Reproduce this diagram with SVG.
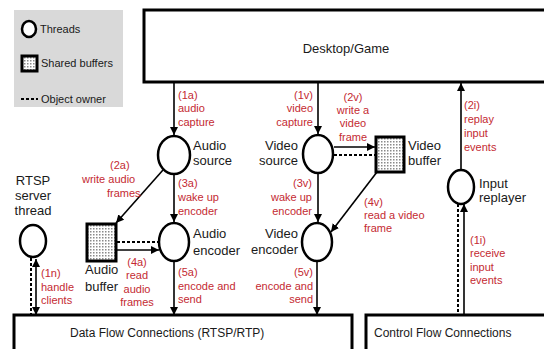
<svg xmlns="http://www.w3.org/2000/svg" width="544" height="349" viewBox="0 0 544 349">
  <defs>
    <pattern id="stipple" width="3" height="3" patternUnits="userSpaceOnUse">
      <rect width="3" height="3" fill="#ffffff"/>
      <rect width="1.5" height="1.5" fill="#8a8a8a"/>
    </pattern>
    <marker id="arrow" viewBox="0 0 10 10" refX="10" refY="5" markerWidth="8" markerHeight="8" markerUnits="userSpaceOnUse" orient="auto-start-reverse">
      <path d="M0,0 L10,5 L0,10 z" fill="#000"/>
    </marker>
    <style>
      .box { fill: #ffffff; stroke: #000; stroke-width: 3; }
      .thread { fill: #ffffff; stroke: #000; stroke-width: 2.5; }
      .buffer { fill: url(#stipple); stroke: #000; stroke-width: 3; }
      .flow { fill: none; stroke: #000; stroke-width: 1.6; marker-end: url(#arrow); }
      .both { marker-start: url(#arrow); }
      .owner { fill: none; stroke: #000; stroke-width: 2; stroke-dasharray: 3 2; }
      text { font-family: "Liberation Sans", Arial, sans-serif; }
      .name { font-size: 13px; fill: #1a1a1a; }
      .step { font-size: 11px; fill: #c42a32; }
      .legend { font-size: 11px; fill: #1a1a1a; }
      .title { font-size: 13px; fill: #1a1a1a; }
      .conn { font-size: 12px; fill: #1a1a1a; }
    </style>
  </defs>

  <rect width="544" height="349" fill="#ffffff"/>

  <!-- legend -->
  <g id="legend">
    <rect x="14" y="10" width="109" height="97" fill="#d9d9d9"/>
    <ellipse cx="29" cy="29" rx="7" ry="8" class="thread"/>
    <text x="40" y="33" class="legend">Threads</text>
    <rect x="22" y="56" width="15" height="15" class="buffer"/>
    <text x="41" y="67" class="legend">Shared buffers</text>
    <line x1="21" y1="99" x2="38" y2="99" class="owner" stroke-width="1.6" stroke-dasharray="2.5 1.5"/>
    <text x="41" y="103" class="legend">Object owner</text>
  </g>

  <!-- outer systems -->
  <g id="desktop">
    <rect x="144" y="10" width="420" height="72" class="box"/>
    <text x="346" y="53" text-anchor="middle" class="title">Desktop/Game</text>
  </g>
  <g id="data-flow">
    <rect x="14" y="315" width="338" height="50" class="box"/>
    <text x="70" y="337" class="conn">Data Flow Connections (RTSP/RTP)</text>
  </g>
  <g id="control-flow">
    <rect x="366" y="315" width="200" height="50" class="box"/>
    <text x="374" y="337" class="conn">Control Flow Connections</text>
  </g>

  <!-- connectors -->
  <g id="connectors">
    <line x1="174" y1="83" x2="174" y2="135" class="flow"/>
    <line x1="318" y1="83" x2="318" y2="134" class="flow"/>
    <line x1="334" y1="147" x2="375" y2="147" class="flow"/>
    <line x1="334" y1="155" x2="375" y2="155" class="owner"/>
    <line x1="461" y1="169" x2="461" y2="83" class="flow"/>
    <line x1="464" y1="315" x2="464" y2="204" class="flow"/>
    <line x1="458" y1="204" x2="458" y2="315" class="owner"/>
    <line x1="174" y1="175" x2="174" y2="222" class="flow"/>
    <line x1="318" y1="174" x2="318" y2="222" class="flow"/>
    <line x1="163" y1="170" x2="116" y2="223" class="flow"/>
    <line x1="117" y1="250" x2="159" y2="250" class="flow"/>
    <line x1="117" y1="242" x2="159" y2="242" class="owner"/>
    <line x1="377" y1="172" x2="331" y2="232" class="flow"/>
    <line x1="174" y1="262" x2="174" y2="315" class="flow"/>
    <line x1="317" y1="262" x2="317" y2="315" class="flow"/>
    <line x1="36" y1="259" x2="36" y2="315" class="flow both"/>
    <line x1="31" y1="258" x2="31" y2="315" class="owner"/>
  </g>

  <!-- step labels -->
  <g id="steps" class="step">
    <text x="178" y="99" class="step">(1a)</text>
    <text x="178" y="112" class="step">audio</text>
    <text x="178" y="126" class="step">capture</text>

    <text x="313" y="99" text-anchor="end" class="step">(1v)</text>
    <text x="313" y="112" text-anchor="end" class="step">video</text>
    <text x="313" y="126" text-anchor="end" class="step">capture</text>

    <text x="353" y="101" text-anchor="middle" class="step">(2v)</text>
    <text x="353" y="114" text-anchor="middle" class="step">write a</text>
    <text x="353" y="127" text-anchor="middle" class="step">video</text>
    <text x="353" y="141" text-anchor="middle" class="step">frame</text>

    <text x="464" y="109" class="step">(2i)</text>
    <text x="464" y="123" class="step">replay</text>
    <text x="464" y="137" class="step">input</text>
    <text x="464" y="151" class="step">events</text>

    <text x="110" y="169" class="step">(2a)</text>
    <text x="82" y="183" class="step">write audio</text>
    <text x="107" y="197" class="step">frames</text>

    <text x="178" y="187" class="step">(3a)</text>
    <text x="178" y="201" class="step">wake up</text>
    <text x="178" y="215" class="step">encoder</text>

    <text x="312" y="187" text-anchor="end" class="step">(3v)</text>
    <text x="312" y="201" text-anchor="end" class="step">wake up</text>
    <text x="312" y="215" text-anchor="end" class="step">encoder</text>

    <text x="364" y="206" class="step">(4v)</text>
    <text x="364" y="219" class="step">read a video</text>
    <text x="364" y="232" class="step">frame</text>

    <text x="137" y="266" text-anchor="middle" class="step">(4a)</text>
    <text x="137" y="279" text-anchor="middle" class="step">read</text>
    <text x="137" y="293" text-anchor="middle" class="step">audio</text>
    <text x="137" y="306" text-anchor="middle" class="step">frames</text>

    <text x="178" y="276" class="step">(5a)</text>
    <text x="178" y="290" class="step">encode and</text>
    <text x="178" y="303" class="step">send</text>

    <text x="313" y="276" text-anchor="end" class="step">(5v)</text>
    <text x="313" y="290" text-anchor="end" class="step">encode and</text>
    <text x="313" y="303" text-anchor="end" class="step">send</text>

    <text x="470" y="244" class="step">(1i)</text>
    <text x="470" y="257" class="step">receive</text>
    <text x="470" y="271" class="step">input</text>
    <text x="470" y="284" class="step">events</text>

    <text x="41" y="277" class="step">(1n)</text>
    <text x="41" y="291" class="step">handle</text>
    <text x="41" y="304" class="step">clients</text>
  </g>

  <!-- threads -->
  <g id="audio-source">
    <ellipse cx="174" cy="155" rx="16" ry="19" class="thread"/>
    <text x="193" y="150" class="name">Audio</text>
    <text x="193" y="165" class="name">source</text>
  </g>
  <g id="video-source">
    <ellipse cx="318" cy="154" rx="15" ry="19" class="thread"/>
    <text x="298" y="150" text-anchor="end" class="name">Video</text>
    <text x="298" y="165" text-anchor="end" class="name">source</text>
  </g>
  <g id="audio-encoder">
    <ellipse cx="174" cy="242" rx="15" ry="19" class="thread"/>
    <text x="193" y="238" class="name">Audio</text>
    <text x="193" y="255" class="name">encoder</text>
  </g>
  <g id="video-encoder">
    <ellipse cx="317" cy="242" rx="15" ry="19" class="thread"/>
    <text x="298" y="238" text-anchor="end" class="name">Video</text>
    <text x="298" y="254" text-anchor="end" class="name">encoder</text>
  </g>
  <g id="input-replayer">
    <ellipse cx="461" cy="187" rx="13" ry="17" class="thread"/>
    <text x="479" y="188" class="name">Input</text>
    <text x="479" y="202" class="name">replayer</text>
  </g>
  <g id="rtsp-server">
    <ellipse cx="33" cy="241" rx="13" ry="16" class="thread"/>
    <text x="33" y="185" text-anchor="middle" class="name">RTSP</text>
    <text x="33" y="200" text-anchor="middle" class="name">server</text>
    <text x="33" y="215" text-anchor="middle" class="name">thread</text>
  </g>

  <!-- shared buffers -->
  <g id="audio-buffer">
    <rect x="87" y="224" width="29" height="37" class="buffer"/>
    <text x="85" y="274" class="name">Audio</text>
    <text x="85" y="291" class="name">buffer</text>
  </g>
  <g id="video-buffer">
    <rect x="376" y="137" width="28" height="35" class="buffer"/>
    <text x="408" y="150" class="name">Video</text>
    <text x="408" y="165" class="name">buffer</text>
  </g>
</svg>
